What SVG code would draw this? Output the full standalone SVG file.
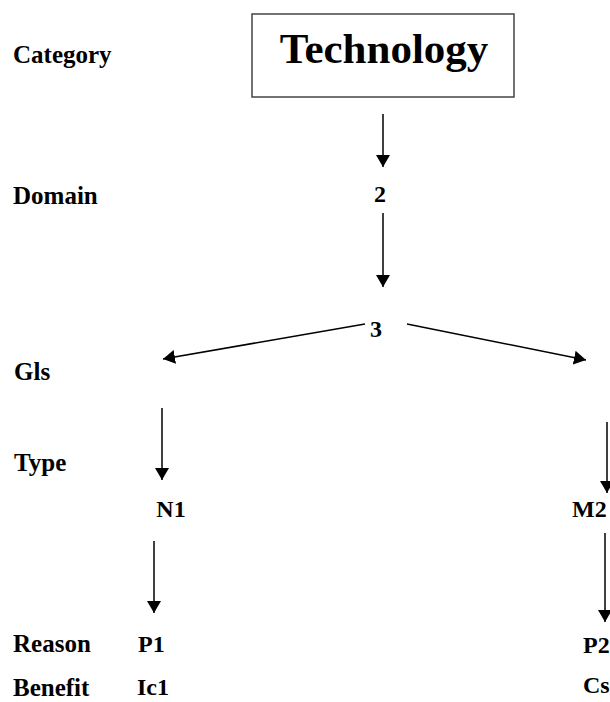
<svg xmlns="http://www.w3.org/2000/svg" width="610" height="702" viewBox="0 0 610 702">
  <style>
    text { font-family: "Liberation Serif", "Times New Roman", serif; font-weight: bold; fill: #000; }
    .lbl { font-size: 25px; }
    .node { font-size: 24px; }
    .title { font-size: 43px; }
    .edge { stroke: #000; stroke-width: 1.5; fill: none; marker-end: url(#arrow); }
  </style>
  <defs>
    <marker id="arrow" viewBox="0 0 12 14" refX="12" refY="7" markerWidth="12" markerHeight="14" markerUnits="userSpaceOnUse" orient="auto">
      <path d="M0,0 L12,7 L0,14 Z" fill="#000"/>
    </marker>
  </defs>

  <!-- level labels -->
  <g id="levels">
    <text class="lbl" x="13" y="63">Category</text>
    <text class="lbl" x="13" y="204">Domain</text>
    <text class="lbl" x="14" y="380">Gls</text>
    <text class="lbl" x="14" y="471">Type</text>
    <text class="lbl" x="13" y="652">Reason</text>
    <text class="lbl" x="13" y="696">Benefit</text>
  </g>

  <!-- nodes -->
  <g id="technology">
    <rect x="252" y="14" width="262" height="83" fill="#fff" stroke="#444" stroke-width="1.5"/>
    <text class="title" x="384" y="63" text-anchor="middle">Technology</text>
  </g>
  <g id="n2"><text class="node" x="380" y="202" text-anchor="middle">2</text></g>
  <g id="n3"><text class="node" x="376" y="337" text-anchor="middle">3</text></g>
  <g id="n1"><text class="node" x="171" y="517" text-anchor="middle">N1</text></g>
  <g id="m2"><text class="node" x="572" y="517">M2</text></g>
  <g id="p1"><text class="node" x="138" y="652">P1</text></g>
  <g id="p2"><text class="node" x="583" y="653">P2</text></g>
  <g id="ic1"><text class="node" x="137" y="695">Ic1</text></g>
  <g id="cs"><text class="node" x="583" y="693">Cs</text></g>

  <!-- connectors -->
  <g id="connectors">
    <line class="edge" x1="383" y1="114" x2="383" y2="167"/>
    <line class="edge" x1="383" y1="213" x2="383" y2="287"/>
    <line class="edge" x1="365" y1="324" x2="163" y2="359"/>
    <line class="edge" x1="407" y1="324" x2="586" y2="360"/>
    <line class="edge" x1="162" y1="408" x2="162" y2="480"/>
    <line class="edge" x1="154" y1="541" x2="154" y2="613"/>
    <line class="edge" x1="607" y1="422" x2="607" y2="493"/>
    <line class="edge" x1="605" y1="533" x2="605" y2="622"/>
  </g>
</svg>
